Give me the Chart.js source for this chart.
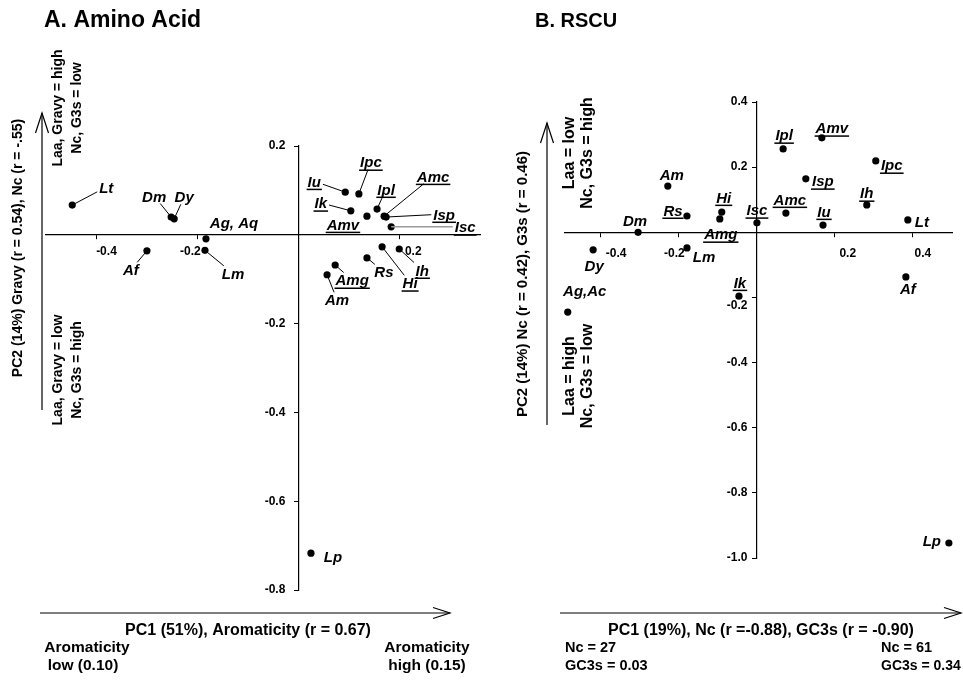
<!DOCTYPE html>
<html><head><meta charset="utf-8">
<script src="https://cdn.jsdelivr.net/npm/chart.js@4.4.0/dist/chart.umd.min.js"></script>
<style>
html,body{margin:0;padding:0;background:#fff;}
#wrap{position:relative;width:963px;height:683px;overflow:hidden;}
canvas{position:absolute;left:0;top:0;}
</style></head><body>
<div id="wrap"><canvas id="ca" width="963" height="683"></canvas><canvas id="cb" width="963" height="683"></canvas></div>
<script>
// ---------- Panel A: Amino Acid ----------
const aaNames = ['Lt','Dm','Dy','Ag, Aq','Lm','Af','Iu','Ipc','Ik','Amv','Ipl','Amc','Isp','Isc','Hi','Ih','Rs','Amg','Am','Lp'];
const aaPC1 = [-0.448,-0.252,-0.246,-0.183,-0.185,-0.300,0.093,0.120,0.104,0.136,0.156,0.170,0.174,0.184,0.166,0.200,0.136,0.073,0.057,0.025];
const aaPC2 = [0.067,0.040,0.036,-0.009,-0.035,-0.036,0.096,0.092,0.054,0.042,0.058,0.042,0.040,0.018,-0.027,-0.032,-0.052,-0.068,-0.090,-0.717];
const aaXTicks = [-0.4,-0.2,0.2];
const aaYTicks = [0.2,-0.2,-0.4,-0.6,-0.8];

// ---------- Panel B: RSCU ----------
const rsNames = ['Am','Rs','Dm','Hi','Amg','Isc','Dy','Lm','Ik','Ag,Ac','Ipl','Amv','Ipc','Isp','Amc','Iu','Ih','Lt','Af','Lp'];
const rsPC1 = [-0.227,-0.178,-0.303,-0.089,-0.094,0.001,-0.418,-0.178,-0.045,-0.483,0.068,0.167,0.305,0.126,0.075,0.170,0.282,0.387,0.382,0.492];
const rsPC2 = [0.142,0.050,0.000,0.062,0.041,0.029,-0.054,-0.048,-0.196,-0.245,0.256,0.290,0.219,0.164,0.059,0.022,0.084,0.038,-0.137,-0.954];
const rsXTicks = [-0.4,-0.2,0.2,0.4];
const rsYTicks = [0.4,0.2,-0.2,-0.4,-0.6,-0.8,-1.0];

// label placement (pixel offsets from point): [dx, dy, underline, leader(0 none,1 black,2 grey)]
const aaLabelLayout = {
  'Lt':[34,-18,0,1], 'Dm':[-17,-21,0,1], 'Dy':[10,-22,0,1], 'Ag, Aq':[28,-16,0,0],
  'Lm':[28,23,0,1], 'Af':[-16,19,0,1], 'Iu':[-31,-11,1,1], 'Ipc':[12,-32,1,1],
  'Ik':[-30,-8,1,1], 'Amv':[-24,8,1,0], 'Ipl':[9,-20,1,1], 'Amc':[49,-40,1,1],
  'Isp':[58,-3,1,1], 'Isc':[74,0,1,2], 'Hi':[28,36,1,1], 'Ih':[23,21,1,1],
  'Rs':[17,14,0,1], 'Amg':[17,15,1,1], 'Am':[10,25,0,1], 'Lp':[22,3,0,0]
};
const rsLabelLayout = {
  'Am':[4,-12,0,0], 'Rs':[-14,-6,1,0], 'Dm':[-3,-12,0,0], 'Hi':[2,-15,1,0],
  'Amg':[1,15,1,0], 'Isc':[0,-13,1,0], 'Dy':[1,16,0,0], 'Lm':[17,9,0,0],
  'Ik':[1,-14,1,0], 'Ag,Ac':[17,-22,0,0], 'Ipl':[1,-14,1,0], 'Amv':[10,-10,1,0],
  'Ipc':[16,4,1,0], 'Isp':[17,2,1,0], 'Amc':[4,-14,1,0], 'Iu':[1,-14,1,0],
  'Ih':[0,-12,1,0], 'Lt':[14,2,0,0], 'Af':[2,12,0,0], 'Lp':[-17,-3,0,0]
};
// tick-label nudges (pixels): per x tick horizontal shift, y-label gap from axis, per y tick vertical shift
const aaTickNudge = { x: [10, -7, 14], yGap: 13, yDy: [] };
const rsTickNudge = { x: [16, -4, 13, 10], yGap: 9, yDy: [0, 0, 8] };

const FONT = '"Liberation Sans", Arial, Helvetica, sans-serif';

function text(ctx, s, x, y, size, align, rot, italic) {
  ctx.save();
  ctx.font = (italic ? 'italic ' : '') + 'bold ' + size + 'px ' + FONT;
  ctx.fillStyle = '#000';
  ctx.textAlign = align || 'center';
  ctx.textBaseline = 'middle';
  ctx.translate(x, y);
  if (rot) ctx.rotate(-Math.PI / 2);
  ctx.fillText(s, 0, 0);
  ctx.restore();
}
function arrow(ctx, x1, y1, x2, y2, hl, hw) {
  ctx.save();
  ctx.strokeStyle = '#000'; ctx.lineWidth = 1.2;
  ctx.beginPath(); ctx.moveTo(x1, y1); ctx.lineTo(x2, y2); ctx.stroke();
  const a = Math.atan2(y2 - y1, x2 - x1);
  const ux = Math.cos(a), uy = Math.sin(a);
  ctx.beginPath();
  ctx.moveTo(x2 - ux * hl - uy * hw, y2 - uy * hl + ux * hw);
  ctx.lineTo(x2, y2);
  ctx.lineTo(x2 - ux * hl + uy * hw, y2 - uy * hl - ux * hw);
  ctx.stroke();
  ctx.restore();
}

function labelPlugin(names, layout) {
  return {
    id: 'ptlabels',
    afterDatasetsDraw(chart) {
      const ctx = chart.ctx;
      const meta = chart.getDatasetMeta(0);
      ctx.save();
      ctx.font = 'italic bold 15px ' + FONT;
      ctx.fillStyle = '#000';
      ctx.textAlign = 'center';
      ctx.textBaseline = 'alphabetic';
      meta.data.forEach((pt, i) => {
        const name = names[i];
        const L = layout[name];
        const cx = pt.x + L[0], cy = pt.y + L[1];
        const w = ctx.measureText(name).width;
        if (L[3]) {
          const hw = w / 2 + 2, hh = 7.5;
          const vx = cx - pt.x, vy = cy - pt.y;
          const tx = vx !== 0 ? hw / Math.abs(vx) : Infinity;
          const ty = vy !== 0 ? hh / Math.abs(vy) : Infinity;
          const t = Math.min(tx, ty);
          if (t < 1) {
            ctx.beginPath();
            ctx.moveTo(pt.x, pt.y);
            ctx.lineTo(cx - vx * t, cy - vy * t);
            ctx.strokeStyle = L[3] === 2 ? '#9a9a9a' : '#000';
            ctx.lineWidth = L[3] === 2 ? 1.5 : 1;
            ctx.stroke();
          }
        }
        ctx.fillText(name, cx, cy + 5.5);
        if (L[2]) ctx.fillRect(cx - w / 2 - 1, cy + 7.5, w + 2, 1.5);
      });
      ctx.restore();
    }
  };
}

function nudgePlugin(nudge) {
  return {
    id: 'ticknudge',
    beforeDraw(chart) {
      const xi = chart.scales.x.getLabelItems(chart.chartArea);
      xi.forEach((it, i) => { if (!it._nudged) { it.options.translation[0] += (nudge.x[i] || 0); it._nudged = true; } });
      const yi = chart.scales.y.getLabelItems(chart.chartArea);
      yi.forEach((it, i) => { if (!it._nudged) { it.options.translation[0] -= nudge.yGap; it.options.translation[1] += (nudge.yDy[i] || 0); it._nudged = true; } });
    }
  };
}

function scaleOpts(min, max, pos, tickList, pad) {
  return {
    type: 'linear', min: min, max: max, position: pos,
    afterBuildTicks: (axis) => { axis.ticks = tickList.map(v => ({ value: v })); },
    ticks: { callback: (v) => Number(v).toFixed(1), color: '#000', padding: pad,
             font: { family: FONT, size: 12, weight: 'bold' } },
    grid: { display: true, drawOnChartArea: false, drawTicks: true, tickLength: 4, color: '#000', lineWidth: 1 },
    border: { display: true, color: '#000', width: 1.2 }
  };
}

function makeChart(id, xs, ys, names, layout, nudge, xr, yr, xt, yt, xpad, padding, annot) {
  return new Chart(document.getElementById(id), {
    type: 'scatter',
    data: { datasets: [{ data: xs.map((x, i) => ({ x: x, y: ys[i] })),
      backgroundColor: '#000', borderWidth: 0, pointRadius: 3.6, pointHoverRadius: 3.6, clip: false }] },
    options: {
      responsive: false, animation: false, devicePixelRatio: 1,
      layout: { padding: padding },
      plugins: { legend: { display: false }, tooltip: { enabled: false }, title: { display: false } },
      scales: {
        x: scaleOpts(xr[0], xr[1], { y: 0 }, xt, xpad),
        y: scaleOpts(yr[0], yr[1], { x: 0 }, yt, 4)
      }
    },
    plugins: [nudgePlugin(nudge), labelPlugin(names, layout), { id: 'annot', afterDraw: (c) => annot(c.ctx) }]
  });
}

makeChart('ca', aaPC1, aaPC2, aaNames, aaLabelLayout, aaTickNudge, [-0.5, 0.36], [-0.8, 0.2], aaXTicks, aaYTicks, 6,
  { left: 46, right: 483, top: 146, bottom: 93 },
  (ctx) => {
    text(ctx, 'A. Amino Acid', 44, 21, 23, 'left');
    arrow(ctx, 42, 410, 42, 113, 20, 6.5);
    arrow(ctx, 40, 613, 450, 613, 17, 5.5);
    text(ctx, 'PC2 (14%) Gravy (r = 0.54), Nc (r = -.55)', 18, 248, 14, 'center', true);
    text(ctx, 'Laa, Gravy = high', 58, 108, 14, 'center', true);
    text(ctx, 'Nc, G3s = low', 77, 108, 14, 'center', true);
    text(ctx, 'Laa, Gravy = low', 58, 370, 14, 'center', true);
    text(ctx, 'Nc, G3s = high', 77, 370, 14, 'center', true);
    text(ctx, 'PC1 (51%), Aromaticity (r = 0.67)', 248, 631, 16);
    text(ctx, 'Aromaticity', 87, 648, 15.5);
    text(ctx, 'low (0.10)', 83, 666, 15.5);
    text(ctx, 'Aromaticity', 427, 648, 15.5);
    text(ctx, 'high (0.15)', 427, 666, 15.5);
  });

makeChart('cb', rsPC1, rsPC2, rsNames, rsLabelLayout, rsTickNudge, [-0.49, 0.5], [-1.0, 0.4], rsXTicks, rsYTicks, 10,
  { left: 565, right: 11, top: 102, bottom: 125 },
  (ctx) => {
    text(ctx, 'B. RSCU', 535, 21, 20, 'left');
    arrow(ctx, 547, 425, 547, 123, 20, 6.5);
    arrow(ctx, 560, 613, 961, 613, 17, 5.5);
    text(ctx, 'PC2 (14%) Nc (r = 0.42), G3s (r = 0.46)', 523, 284, 15, 'center', true);
    text(ctx, 'Laa = low', 570, 153, 16, 'center', true);
    text(ctx, 'Nc, G3s = high', 588, 153, 16, 'center', true);
    text(ctx, 'Laa = high', 570, 376, 16, 'center', true);
    text(ctx, 'Nc, G3s = low', 588, 376, 16, 'center', true);
    text(ctx, 'PC1 (19%), Nc (r =-0.88), GC3s (r = -0.90)', 761, 631, 16);
    text(ctx, 'Nc = 27', 565, 648, 14.5, 'left');
    text(ctx, 'GC3s = 0.03', 565, 666, 14.5, 'left');
    text(ctx, 'Nc = 61', 881, 648, 14.5, 'left');
    text(ctx, 'GC3s = 0.34', 881, 666, 14, 'left');
  });
</script>
</body></html>
